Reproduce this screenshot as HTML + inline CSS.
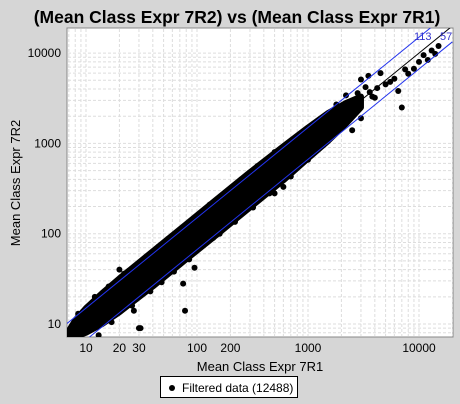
<!DOCTYPE html>
<html><head><meta charset="utf-8"><style>
body{margin:0;background:#d6d6d6;font-family:"Liberation Sans",sans-serif;}
svg{display:block}
</style></head><body>
<svg id="c" width="460" height="404">
<rect x="0" y="0" width="460" height="404" fill="#d6d6d6"/>
<text x="237" y="23" text-anchor="middle" font-size="17.5" font-weight="bold">(Mean Class Expr 7R2) vs (Mean Class Expr 7R1)</text>
<rect x="67" y="28" width="386" height="309" fill="#fff" stroke="#888"/>
<g id="grid"></g>
<g id="ticks"></g>
<g id="band"></g>
<g id="pts"></g>
<g id="lines"></g>
<text x="414" y="40" fill="#3333cc" font-size="11">113</text>
<text x="440" y="40" fill="#3333cc" font-size="11">57</text>
<text x="260" y="371" text-anchor="middle" font-size="13">Mean Class Expr 7R1</text>
<text transform="translate(20,183) rotate(-90)" text-anchor="middle" font-size="13">Mean Class Expr 7R2</text>
<g>
<rect x="160.5" y="376.5" width="137" height="21" fill="#fff" stroke="#000"/>
<circle cx="172" cy="388" r="3" fill="#000"/>
<text x="182" y="392" font-size="12">Filtered data (12488)</text>
</g>
</svg>
<script>
const xTicks=[10,20,30,100,200,1000,10000];
const yTicks=[10,100,1000,10000];
const bandX=[7,8,10,14,20,40,80,150,300,600,1000,1500,2200,3000];
const bandUpper=[8.4,11,15,22,32,64,128,240,480,930,1500,2150,2800,3300];
const bandLower=[6.8,7.2,8,10,13.5,26,52,97,195,390,680,1050,1650,2500];
const outX=[8.5,11,12,15,18,19,20,24,25,27,28,30,31,33,40,45,50,75,78,90,95,60,70,110,120,140,180,230,260,300,400,500,600,700,900,1000,1300,1600,2000,2500,3000,4000,5000,6000,7000,8000,9000,10000,11000,13000,15000,3500,4500,6500,12000,2200,3000,14000,2600,2900,3300,3800,4200,1800,2400,2800,3600,5500,7500,16,22,35,45,55,65,130,170,250,350,500,13,17,26,38,48,62,85,160,220,320,450];
const outY=[13,9.5,20,19,22,30,40,38,31,14,33,9,9,26,48,55,72,28,14,85,42,90,110,130,160,90,200,170,190,380,480,280,330,430,780,660,1800,2200,2400,1400,1900,3200,4500,5200,2500,5900,6700,8000,9500,10700,12000,5600,6000,3800,8400,3400,5100,9800,3000,2600,4200,3300,4100,2700,2300,3600,3700,4800,6600,26,36,56,72,88,100,210,270,400,560,800,7.5,10.5,16,23,29,38,52,100,135,195,280];
const X=v=>86+111*(Math.log10(v)-1);
const Y=v=>324-90.3*(Math.log10(v)-1);
const NS="http://www.w3.org/2000/svg";
function mk(t,a,p){const e=document.createElementNS(NS,t);for(const k in a)e.setAttribute(k,a[k]);p.appendChild(e);return e;}
const grid=document.getElementById('grid');
for(let d=1;d<=10000;d*=10)for(let m=1;m<10;m++){const v=d*m;
 const x=X(v);if(x>67&&x<453){const l=mk('line',{x1:x,x2:x,y1:29,y2:336,stroke:'#ddd','stroke-dasharray':'3,2'},grid);}
 const y=Y(v);if(y>28&&y<337){const l=mk('line',{x1:68,x2:452,y1:y,y2:y,stroke:'#ddd','stroke-dasharray':'3,2'},grid);}}
const tk=document.getElementById('ticks');
xTicks.forEach(v=>{const t=mk('text',{x:X(v),y:352,'text-anchor':'middle','font-size':12},tk);t.textContent=v;});
yTicks.forEach(v=>{const t=mk('text',{x:61,y:Y(v)+4,'text-anchor':'end','font-size':12},tk);t.textContent=v;});
const cp=mk('clipPath',{id:'clip'},document.getElementById('c'));
mk('rect',{x:67,y:28,width:386,height:309},cp);
const band=document.getElementById('band');
band.setAttribute('clip-path','url(#clip)');
let pts=bandX.map((v,i)=>X(v)+','+Y(bandUpper[i]));
for(let i=bandX.length-1;i>=0;i--)pts.push(X(bandX[i])+','+Y(bandLower[i]));
const poly=mk('polygon',{points:pts.join(' '),fill:'#000',stroke:'#000','stroke-width':6,'stroke-linejoin':'round'},band);


const pg=document.getElementById('pts');
pg.setAttribute('clip-path','url(#clip)');
outX.forEach((v,i)=>{const c=mk('circle',{cx:X(v),cy:Y(outY[i]),r:3,fill:'#000'},pg);

});
const lg=document.getElementById('lines');
const lo=6.75,hi=20000;
[[1,'#000'],[1.5,'#2233ee'],[1/1.5,'#2233ee']].forEach(([f,col])=>{
 const l=mk('line',{x1:X(lo),y1:Y(lo*f),x2:X(hi),y2:Y(hi*f),stroke:col,'stroke-width':1},lg);
 
 });
lg.setAttribute('clip-path','url(#clip)');
</script>
</body></html>
